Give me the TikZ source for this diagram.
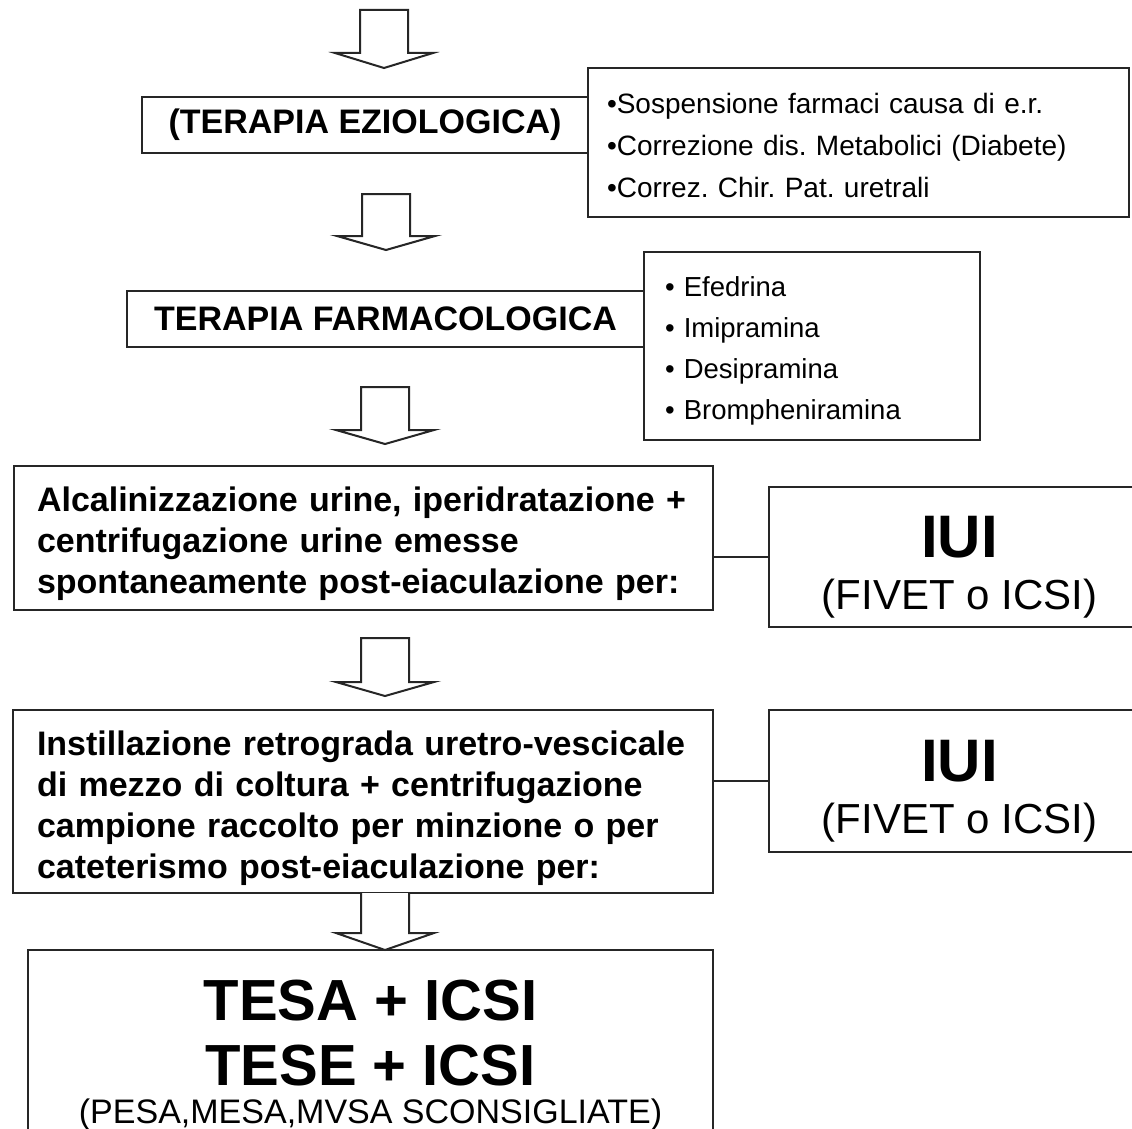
\documentclass[tikz,border=0pt]{standalone}
\usepackage{fontspec}
\setmainfont{Liberation Sans}
\frenchspacing
% second line of the IUI boxes
\newcommand\iuinotefont{\normalfont\fontsize{42}{42}\selectfont}
% hollow block arrow pointing down: centre x, top y, wing y, tip y
\newcommand\flowarrow[4]{%
  \draw[arrowline] (#1-24,#2) -- (#1+24,#2) -- (#1+24,#3) -- (#1+49,#3)
    -- (#1,#4) -- (#1-49,#3) -- (#1-24,#3) -- cycle;}
\begin{document}
\begin{tikzpicture}[x=1pt,y=-1pt,
  box/.style={draw=black!85, line width=2.2pt, rectangle, inner sep=0pt, fill=white},
  listbox/.style={box, align=left},
  arrowline/.style={draw=black!85, line width=2pt, fill=white, line join=miter},
  link/.style={draw=black!85, line width=2pt},
  headfont/.style={font=\fontsize{34}{40}\selectfont\bfseries},
  itemfont/.style={font=\fontsize{28}{42}\selectfont},
  stepfont/.style={font=\fontsize{34}{41}\selectfont\bfseries},
  iuibox/.style={box, font=\fontsize{60}{52}\selectfont\bfseries, align=center,
    minimum width=381pt, text height=113pt}]
\useasboundingbox (0,0) rectangle (1132,1129);
\clip (0,0) rectangle (1132,1129);
\fill[white] (0,0) rectangle (1132,1129);

% aetiological therapy
\node[box, headfont, minimum width=446pt, minimum height=56pt] (etio) at (365,125) {(TERAPIA EZIOLOGICA)};
\node[listbox, itemfont, text width=503pt, inner xsep=19pt, minimum height=149pt, text height=26.5pt] (etiolist) at (858.5,142.5)
  {•Sospensione farmaci causa di e.r.\\
   •Correzione dis. Metabolici (Diabete)\\
   •Correz. Chir. Pat. uretrali};

% pharmacological therapy
\node[box, headfont, minimum width=517pt, minimum height=56pt] (farma) at (385.5,319) {TERAPIA FARMACOLOGICA};
\node[listbox, font=\fontsize{27.5}{41}\selectfont, text width=294pt, inner xsep=21pt, minimum height=188pt, text height=30pt] (farmalist) at (812,346)
  {• Efedrina\\
   • Imipramina\\
   • Desipramina\\
   • Brompheniramina};

% urine alkalinisation
\node[listbox, stepfont, text width=653pt, inner xsep=23pt, minimum height=144pt, text height=37pt] (alc) at (363.5,538)
  {Alcalinizzazione urine, iperidratazione +\\
   centrifugazione urine emesse\\
   spontaneamente post-eiaculazione per:};
\node[iuibox, minimum height=140pt] (iui1) at (959.5,557)
  {IUI\\{\iuinotefont (FIVET o ICSI)}};
\draw[link] (iui1.west) -- (iui1.west -| alc.east);

% retrograde instillation
\node[listbox, stepfont, text width=652pt, inner xsep=24pt, minimum height=183pt, text height=39pt] (inst) at (363,801.5)
  {Instillazione retrograda uretro-vescicale\\
   di mezzo di coltura + centrifugazione\\
   campione raccolto per minzione o per\\
   cateterismo post-eiaculazione per:};
\node[iuibox, minimum height=142pt] (iui2) at (959.5,781)
  {IUI\\{\iuinotefont (FIVET o ICSI)}};
\draw[link] (iui2.west) -- (iui2.west -| inst.east);

% testicular sperm retrieval
\node[box, font=\fontsize{58}{65}\selectfont\bfseries, align=center, minimum width=685pt, minimum height=210pt] (tesa) at (370.5,1055)
  {TESA + ICSI\\TESE + ICSI\\[-27pt]{\normalfont\fontsize{34}{38}\selectfont (PESA,MESA,MVSA SCONSIGLIATE)}};

% block arrows between the steps
\flowarrow{384}{10}{53}{68}
\flowarrow{386}{194}{236}{250}
\flowarrow{385}{387}{430}{444}
\flowarrow{385}{638}{682}{696}
\draw[arrowline] (361,893) -- (361,933) -- (336,933) -- (385,950) -- (434,933) -- (409,933) -- (409,893);
\end{tikzpicture}
\end{document}
